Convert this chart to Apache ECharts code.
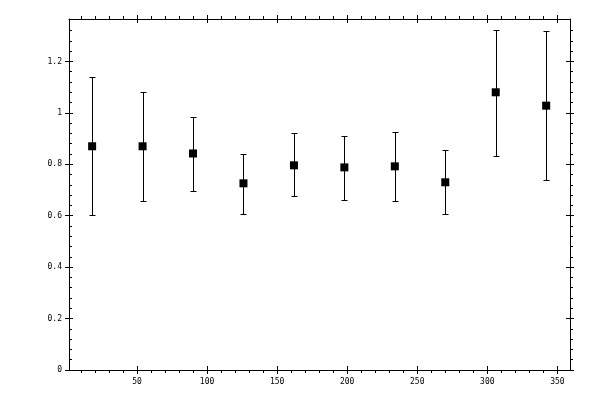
<!DOCTYPE html>
<html>
<head>
<meta charset="UTF-8">
<script src="https://cdn.jsdelivr.net/npm/echarts@6/dist/echarts.min.js"></script>
<style>
html, body { margin: 0; padding: 0; background: #fff; }
#chart { width: 600px; height: 400px; }
</style>
</head>
<body>
<div id="chart"></div>
<script>
// ========================
// data
// ========================

const xValues = [18, 54, 90, 126, 162, 198, 234, 270, 306, 342];
const yValues = [0.870, 0.870, 0.842, 0.726, 0.796, 0.788, 0.792, 0.730, 1.080, 1.028];
const yLow    = [0.601, 0.656, 0.698, 0.605, 0.675, 0.663, 0.656, 0.605, 0.831, 0.737];
const yHigh   = [1.139, 1.083, 0.982, 0.841, 0.920, 0.911, 0.924, 0.856, 1.323, 1.319];

const xMajorTicks = [50, 100, 150, 200, 250, 300, 350];
const xMinorTicks = [10, 20, 30, 40, 60, 70, 80, 90, 110, 120, 130, 140, 160, 170, 180, 190,
    210, 220, 230, 240, 260, 270, 280, 290, 310, 320, 330, 340];
const yMajorTicks = [0, 0.2, 0.4, 0.6, 0.8, 1, 1.2];
const yMinorTicks = [0.04, 0.08, 0.12, 0.16, 0.24, 0.28, 0.32, 0.36, 0.44, 0.48, 0.52, 0.56,
    0.64, 0.68, 0.72, 0.76, 0.84, 0.88, 0.92, 0.96, 1.04, 1.08, 1.12, 1.16, 1.24, 1.28, 1.32];

const X_MIN = 1.5, X_MAX = 359;
const Y_MIN = 0, Y_MAX = 1.365;

// ========================
// axis helpers
// ========================

const black = '#000';

function xAxis(position, ticks, inside, len, withLine, withLabel) {
    return {
        type: 'value', position: position, min: X_MIN, max: X_MAX,
        axisLine: { show: withLine, onZero: false, lineStyle: { color: black, width: 1 } },
        axisTick: { show: true, inside: inside, length: len, customValues: ticks,
            lineStyle: { color: black, width: 1 } },
        axisLabel: withLabel ? {
            show: true, customValues: ticks, color: black, margin: 8,
            fontFamily: 'DejaVu Sans Mono', fontSize: 8
        } : { show: false },
        splitLine: { show: false }
    };
}

function yAxis(position, ticks, inside, len, withLine, withLabel) {
    return {
        type: 'value', position: position, min: Y_MIN, max: Y_MAX,
        axisLine: { show: withLine, onZero: false, lineStyle: { color: black, width: 1 } },
        axisTick: { show: true, inside: inside, length: len, customValues: ticks,
            lineStyle: { color: black, width: 1 } },
        axisLabel: withLabel ? {
            show: true, customValues: ticks, color: black, margin: 7,
            fontFamily: 'DejaVu Sans Mono', fontSize: 8
        } : { show: false },
        splitLine: { show: false }
    };
}

// ========================
// chart
// ========================

const points = xValues.map((x, i) => [x, yValues[i]]);
const bars = xValues.map((x, i) => [x, yLow[i], yHigh[i]]);

const chart = echarts.init(document.getElementById('chart'), null, { renderer: 'canvas' });

chart.setOption({
    animation: false,
    backgroundColor: '#fff',
    grid: { left: 69, right: 30, top: 19, bottom: 30 },
    xAxis: [
        xAxis('bottom', xMajorTicks, false, 4, true, true),
        xAxis('bottom', xMajorTicks, true, 4, false, false),
        xAxis('bottom', xMinorTicks, false, 3, false, false),
        xAxis('top', xMajorTicks, false, 4, true, false),
        xAxis('top', xMajorTicks, true, 4, false, false),
        xAxis('top', xMinorTicks, false, 3, false, false)
    ],
    yAxis: [
        yAxis('left', yMajorTicks, false, 4, true, true),
        yAxis('left', yMajorTicks, true, 4, false, false),
        yAxis('left', yMinorTicks, true, 3, false, false),
        yAxis('right', yMajorTicks, false, 4, true, false),
        yAxis('right', yMajorTicks, true, 4, false, false),
        yAxis('right', yMinorTicks, false, 3, false, false)
    ],
    series: [
        {
            type: 'custom',
            xAxisIndex: 0,
            yAxisIndex: 0,
            data: bars,
            renderItem: function (params, api) {
                const top = api.coord([api.value(0), api.value(2)]);
                const bot = api.coord([api.value(0), api.value(1)]);
                const x = Math.round(top[0]) + 0.5;
                const yt = Math.round(top[1]) + 0.5;
                const yb = Math.round(bot[1]) + 0.5;
                const capHalf = 3;
                const style = { stroke: black, lineWidth: 1 };
                return {
                    type: 'group',
                    children: [
                        { type: 'line', shape: { x1: x, y1: yt, x2: x, y2: yb }, style: style },
                        { type: 'line', shape: { x1: x - capHalf, y1: yt, x2: x + capHalf, y2: yt }, style: style },
                        { type: 'line', shape: { x1: x - capHalf, y1: yb, x2: x + capHalf, y2: yb }, style: style }
                    ]
                };
            },
            z: 2
        },
        {
            type: 'scatter',
            xAxisIndex: 0,
            yAxisIndex: 0,
            data: points,
            symbol: 'rect',
            symbolSize: 8,
            itemStyle: { color: black, opacity: 1 },
            z: 3
        }
    ]
});
</script>
</body>
</html>
